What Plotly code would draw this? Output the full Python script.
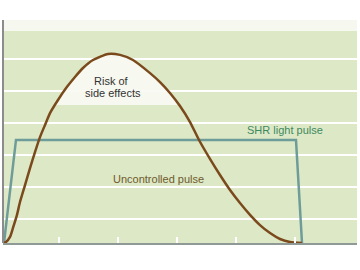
import numpy as np
import plotly.graph_objects as go

# Uncontrolled pulse (brown curve)
pulse_x = [0.067, 0.101, 0.169, 0.219, 0.287, 0.338, 0.423, 0.508, 0.592, 0.677, 0.762,
           0.847, 0.982, 1.135, 1.27, 1.406, 1.575, 1.83, 2.033, 2.253, 2.542, 2.711,
           2.88, 3.05, 3.22, 3.372, 3.558, 3.728, 3.898, 4.067, 4.237, 4.406, 4.576,
           4.745, 4.915, 5.118]
pulse_y = [0.0, 0.03, 0.19, 0.47, 0.88, 1.28, 1.81, 2.34, 2.84, 3.31, 3.69,
           4.06, 4.47, 4.88, 5.19, 5.47, 5.72, 5.91, 5.88, 5.72, 5.31, 5.03,
           4.69, 4.28, 3.78, 3.22, 2.63, 2.125, 1.656, 1.25, 0.88, 0.56, 0.31,
           0.125, 0.03, 0.0]

# SHR light pulse (square pulse)
shr_x = [0.067, 0.27, 5.016, 5.118]
shr_y = [0.0, 3.22, 3.22, 0.0]

risk_threshold = 4.31
grid_vals = [0.75, 1.75, 2.75, 3.75, 4.75, 5.75]
tick_vals = [1, 2, 3, 4, 5]
bg_top = 6.625

# white "risk" region: part of the curve above threshold
px = np.array(pulse_x); py = np.array(pulse_y)
rx, ry = [], []
for i in range(len(px) - 1):
    x0, y0, x1, y1 = px[i], py[i], px[i + 1], py[i + 1]
    if y0 >= risk_threshold:
        rx.append(x0); ry.append(y0)
    if (y0 - risk_threshold) * (y1 - risk_threshold) < 0:
        t = (risk_threshold - y0) / (y1 - y0)
        rx.append(x0 + t * (x1 - x0)); ry.append(risk_threshold)

fig = go.Figure()
fig.add_trace(go.Scatter(x=rx, y=ry, mode="lines", line=dict(width=0, shape="spline", smoothing=0.6),
                         fill="toself", fillcolor="rgba(248,250,242,0.95)", hoverinfo="skip"))
fig.add_trace(go.Scatter(x=shr_x, y=shr_y, mode="lines",
                         line=dict(color="#6e9c98", width=2.5)))
fig.add_trace(go.Scatter(x=pulse_x, y=pulse_y, mode="lines",
                         line=dict(color="#7a4a1c", width=2.5, shape="spline", smoothing=0.6)))

fig.add_shape(type="rect", xref="paper", x0=0, x1=1, yref="y", y0=0, y1=bg_top,
              fillcolor="#dde8c6", line_width=0, layer="below")
fig.add_shape(type="rect", xref="paper", x0=0, x1=1, yref="y", y0=bg_top, y1=6.97,
              fillcolor="#f6f8f0", line_width=0, layer="below")
fig.add_shape(type="line", xref="paper", x0=0, x1=0, yref="paper", y0=0, y1=1,
              line=dict(color="#8c8c8c", width=2))

font = "Liberation Sans, Arial, sans-serif"
fig.add_annotation(x=1.897, y=5.06, text="Risk of", showarrow=False,
                   font=dict(family=font, size=11, color="#333333"))
fig.add_annotation(x=1.914, y=4.69, text="side effects", showarrow=False,
                   font=dict(family=font, size=11, color="#333333"))
fig.add_annotation(x=4.838, y=3.53, text="SHR light pulse", showarrow=False,
                   font=dict(family=font, size=11, color="#3e8a5e"))
fig.add_annotation(x=2.686, y=2.0, text="Uncontrolled pulse", showarrow=False,
                   font=dict(family=font, size=11, color="#6e5a2c"))

fig.update_layout(
    width=360, height=270,
    margin=dict(l=3, r=3, t=20, b=27),
    paper_bgcolor="white", plot_bgcolor="white",
    showlegend=False,
    xaxis=dict(range=[0.05, 6.05], showgrid=False, zeroline=False,
               tickvals=tick_vals, ticks="inside", ticklen=6, tickwidth=1.5,
               tickcolor="white", showticklabels=False,
               showline=True, linecolor="#8f9a96", linewidth=2),
    yaxis=dict(range=[0, 6.97], showgrid=True, gridcolor="white", gridwidth=2,
               tickvals=grid_vals, showticklabels=False, zeroline=False,
               showline=False),
)
fig.write_html("out.html")
